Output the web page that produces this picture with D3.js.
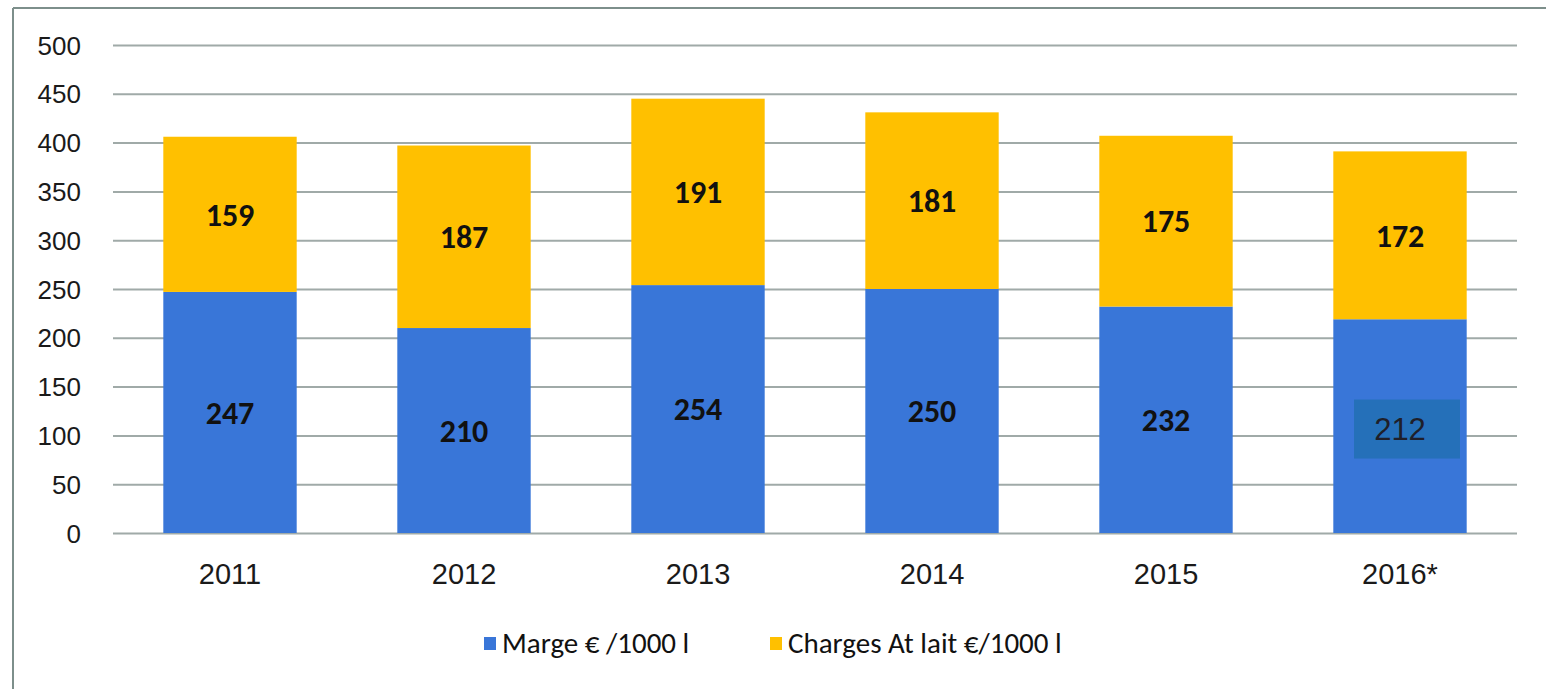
<!DOCTYPE html>
<html>
<head>
<meta charset="utf-8">
<script src="https://cdn.jsdelivr.net/npm/d3@7"></script>
<style>
  body { margin: 0; background: #fff; }
  svg { display: block; font-family: Carlito, Lato, "Liberation Sans", sans-serif; }
  .axis text { fill: #1a1a1a; }
  .y-axis text { font-size: 26px; }
  .x-axis text { font-size: 29px; }
  .axis path, .axis line { stroke: none; }
  .grid line { stroke: #a0aaa8; stroke-width: 2; }
  .grid path { stroke: none; }
  .bar-label { font-size: 32px; font-weight: bold; fill: #111; }
  .legend-text { font-size: 29px; fill: #111; }
</style>
</head>
<body>
<svg id="chart" width="1550" height="689"></svg>
<script>
const width = 1550;
const height = 689;

// data
let years = ["2011", "2012", "2013", "2014", "2015", "2016*"];
let marge = [247, 210, 254, 250, 232, 219];
let charges = [159, 187, 191, 181, 175, 172];
// the 2016 label was pasted over the bar in the original
let margeLabels = ["247", "210", "254", "250", "232", "212"];
let yTicks = [0, 50, 100, 150, 200, 250, 300, 350, 400, 450, 500];
let seriesNames = ["Marge € /1000 l", "Charges At lait €/1000 l"];
let colors = ["#3976d8", "#ffc000"];

const margin = {
  top: 45,
  bottom: 156,
  left: 113,
  right: 33
};

let svg = d3.select("svg#chart");

// frame (top and left edges only are visible)
svg.append("line")
  .attr("x1", 13).attr("y1", 8).attr("x2", 1546).attr("y2", 8)
  .style("stroke", "#7d8f8b").style("stroke-width", 2);
svg.append("line")
  .attr("x1", 13).attr("y1", 8).attr("x2", 13).attr("y2", height)
  .style("stroke", "#7d8f8b").style("stroke-width", 2);

const plot = svg.append("g").attr("id", "plot");
plot.attr("transform", translate(margin.left, margin.top));

let plotWidth = width - margin.left - margin.right;
let plotHeight = height - margin.top - margin.bottom;

/* SCALES */

let yScale = d3.scaleLinear()
  .domain([0, 500])
  .range([plotHeight, 0]);

let xScale = d3.scaleBand()
  .domain(years)
  .range([0, plotWidth])
  .paddingInner(0.43)
  .paddingOuter(0.215);

/* GRID + AXES */

const gridAxis = d3.axisLeft(yScale).tickValues(yTicks).tickSize(-plotWidth).tickFormat("");
plot.append("g").attr("class", "grid").call(gridAxis);

let yAxis = d3.axisLeft(yScale).tickValues(yTicks).tickSize(0).tickPadding(32);
plot.append("g").attr("class", "axis y-axis").call(yAxis)
  .selectAll("text").attr("dy", "0.35em");

let xAxis = d3.axisBottom(xScale).tickSize(0).tickPadding(30);
plot.append("g").attr("class", "axis x-axis")
  .attr("transform", translate(0, plotHeight))
  .call(xAxis);

/* STACKED BARS */

let rows = years.map((y, i) => ({ year: y, marge: marge[i], charges: charges[i] }));
let stack = d3.stack().keys(["marge", "charges"]);
let series = stack(rows);

const barGroup = plot.append("g").attr("id", "bars");

series.forEach((s, si) => {
  barGroup.append("g")
    .selectAll("rect")
    .data(s)
    .enter()
    .append("rect")
      .attr("x", d => xScale(d.data.year))
      .attr("y", d => yScale(d[1]))
      .attr("width", xScale.bandwidth())
      .attr("height", d => yScale(d[0]) - yScale(d[1]))
      .style("fill", colors[si]);
});

// labels in the middle of each segment
series.forEach((s, si) => {
  barGroup.append("g")
    .selectAll("text")
    .data(s)
    .enter()
    .append("text")
      .attr("class", "bar-label")
      .attr("x", d => xScale(d.data.year) + xScale.bandwidth() / 2)
      .attr("y", d => yScale((d[0] + d[1]) / 2))
      .attr("dy", "0.35em")
      .attr("text-anchor", "middle")
      .text((d, i) => si === 0 ? margeLabels[i] : String(d[1] - d[0]))
      .style("display", (d, i) => (si === 0 && i === years.length - 1) ? "none" : null);
});

// pasted label for 2016 (sits a bit off the segment's middle)
const last = years.length - 1;
const lastCx = xScale(years[last]) + xScale.bandwidth() / 2;
const patch = barGroup.append("g")
  .attr("transform", translate(lastCx, yScale(106)));
patch.append("rect")
  .attr("x", -46).attr("y", -30)
  .attr("width", 106).attr("height", 59)
  .style("fill", "#2570b9");
patch.append("text")
  .attr("x", 0).attr("y", 0)
  .attr("dy", "0.35em")
  .attr("text-anchor", "middle")
  .style("font-family", "'Liberation Sans', Arial, sans-serif")
  .style("font-size", "31px")
  .style("fill", "#1f1f2a")
  .text(margeLabels[last]);

/* LEGEND */

const legend = svg.append("g").attr("id", "legend")
  .attr("transform", translate(484, 643));

let legendX = [0, 286];
seriesNames.forEach((name, i) => {
  legend.append("rect")
    .attr("x", legendX[i]).attr("y", -6)
    .attr("width", 12).attr("height", 13)
    .style("fill", colors[i]);
  legend.append("text")
    .attr("class", "legend-text")
    .attr("x", legendX[i] + 18).attr("y", 0)
    .attr("dy", "0.35em")
    .text(name);
});

function translate(x, y) {
  return "translate(" + String(x) + "," + String(y) + ")";
}
</script>
</body>
</html>
